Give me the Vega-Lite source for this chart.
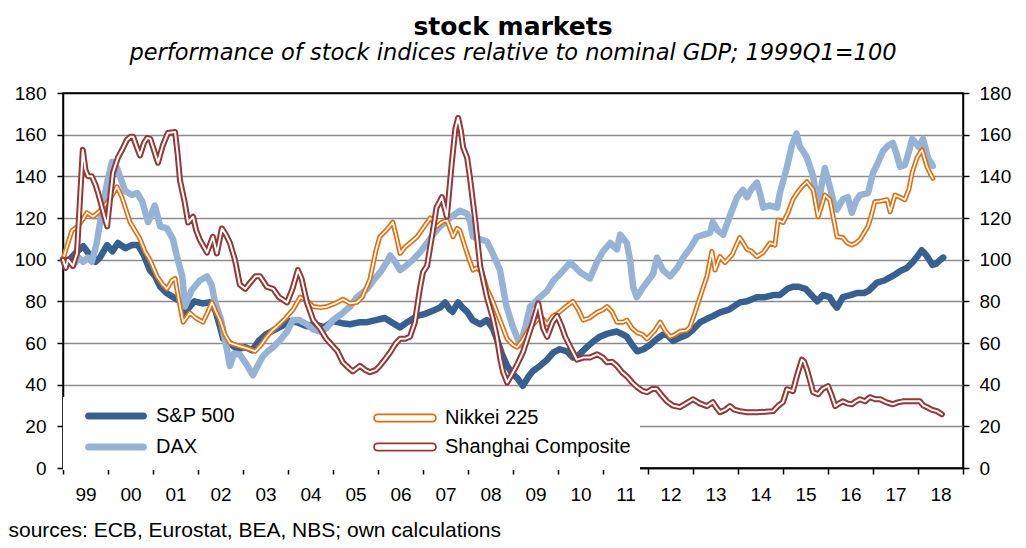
{
"$schema":"https://vega.github.io/schema/vega-lite/v6.json",
"width":900,"height":375,
"autosize":{"type":"none"},
"padding":{"left":63,"top":93,"right":63,"bottom":80},
"background":"white",
"title":{"text":"stock markets","subtitle":"performance of stock indices relative to nominal GDP; 1999Q1=100","anchor":"middle","frame":"group","font":"DejaVu Sans","fontSize":25,"fontWeight":"bold","color":"black","subtitleFont":"DejaVu Sans","subtitleFontSize":22.5,"subtitleFontStyle":"italic","subtitleColor":"black","offset":20,"subtitlePadding":2},
"config":{"view":{"stroke":"black","strokeWidth":1.5}},
"datasets":{"d":[
{"s":"S&P 500","t":1999.0,"v":100},{"s":"S&P 500","t":1999.1,"v":99},{"s":"S&P 500","t":1999.27,"v":103},{"s":"S&P 500","t":1999.45,"v":106.5},{"s":"S&P 500","t":1999.6,"v":102},{"s":"S&P 500","t":1999.72,"v":99},{"s":"S&P 500","t":1999.82,"v":101},{"s":"S&P 500","t":1999.98,"v":107},{"s":"S&P 500","t":2000.1,"v":104},{"s":"S&P 500","t":2000.22,"v":108},{"s":"S&P 500","t":2000.38,"v":105.5},{"s":"S&P 500","t":2000.53,"v":107},{"s":"S&P 500","t":2000.67,"v":107},{"s":"S&P 500","t":2000.8,"v":102},{"s":"S&P 500","t":2000.93,"v":95},{"s":"S&P 500","t":2001.05,"v":92},{"s":"S&P 500","t":2001.16,"v":87},{"s":"S&P 500","t":2001.3,"v":84},{"s":"S&P 500","t":2001.45,"v":82},{"s":"S&P 500","t":2001.6,"v":80},{"s":"S&P 500","t":2001.7,"v":74},{"s":"S&P 500","t":2001.8,"v":77},{"s":"S&P 500","t":2001.92,"v":80},{"s":"S&P 500","t":2002.1,"v":79},{"s":"S&P 500","t":2002.25,"v":79.5},{"s":"S&P 500","t":2002.38,"v":76},{"s":"S&P 500","t":2002.5,"v":67},{"s":"S&P 500","t":2002.56,"v":62},{"s":"S&P 500","t":2002.7,"v":60},{"s":"S&P 500","t":2002.87,"v":57},{"s":"S&P 500","t":2003.05,"v":58},{"s":"S&P 500","t":2003.2,"v":56.5},{"s":"S&P 500","t":2003.35,"v":61},{"s":"S&P 500","t":2003.5,"v":64},{"s":"S&P 500","t":2003.67,"v":66},{"s":"S&P 500","t":2003.85,"v":68},{"s":"S&P 500","t":2004.05,"v":70.5},{"s":"S&P 500","t":2004.2,"v":70},{"s":"S&P 500","t":2004.42,"v":68},{"s":"S&P 500","t":2004.6,"v":69},{"s":"S&P 500","t":2004.8,"v":67.5},{"s":"S&P 500","t":2005.0,"v":70.5},{"s":"S&P 500","t":2005.2,"v":69.5},{"s":"S&P 500","t":2005.38,"v":69},{"s":"S&P 500","t":2005.6,"v":70},{"s":"S&P 500","t":2005.76,"v":70},{"s":"S&P 500","t":2005.95,"v":71},{"s":"S&P 500","t":2006.15,"v":72},{"s":"S&P 500","t":2006.3,"v":70},{"s":"S&P 500","t":2006.49,"v":67.5},{"s":"S&P 500","t":2006.65,"v":70},{"s":"S&P 500","t":2006.87,"v":73},{"s":"S&P 500","t":2007.05,"v":74},{"s":"S&P 500","t":2007.22,"v":75.5},{"s":"S&P 500","t":2007.38,"v":77},{"s":"S&P 500","t":2007.49,"v":79.5},{"s":"S&P 500","t":2007.6,"v":76},{"s":"S&P 500","t":2007.66,"v":75},{"s":"S&P 500","t":2007.78,"v":79.5},{"s":"S&P 500","t":2007.88,"v":77},{"s":"S&P 500","t":2007.98,"v":75},{"s":"S&P 500","t":2008.1,"v":71},{"s":"S&P 500","t":2008.27,"v":69},{"s":"S&P 500","t":2008.42,"v":71},{"s":"S&P 500","t":2008.55,"v":67},{"s":"S&P 500","t":2008.64,"v":62},{"s":"S&P 500","t":2008.75,"v":55},{"s":"S&P 500","t":2008.87,"v":49},{"s":"S&P 500","t":2009.0,"v":45},{"s":"S&P 500","t":2009.1,"v":43},{"s":"S&P 500","t":2009.22,"v":39.5},{"s":"S&P 500","t":2009.35,"v":44},{"s":"S&P 500","t":2009.44,"v":46.5},{"s":"S&P 500","t":2009.6,"v":49},{"s":"S&P 500","t":2009.76,"v":52},{"s":"S&P 500","t":2009.9,"v":55.5},{"s":"S&P 500","t":2010.04,"v":57},{"s":"S&P 500","t":2010.2,"v":56},{"s":"S&P 500","t":2010.33,"v":53},{"s":"S&P 500","t":2010.45,"v":54},{"s":"S&P 500","t":2010.64,"v":58},{"s":"S&P 500","t":2010.8,"v":61},{"s":"S&P 500","t":2010.93,"v":63},{"s":"S&P 500","t":2011.1,"v":64.5},{"s":"S&P 500","t":2011.31,"v":65.5},{"s":"S&P 500","t":2011.45,"v":64},{"s":"S&P 500","t":2011.53,"v":63},{"s":"S&P 500","t":2011.65,"v":59},{"s":"S&P 500","t":2011.76,"v":56},{"s":"S&P 500","t":2011.9,"v":57},{"s":"S&P 500","t":2012.04,"v":59},{"s":"S&P 500","t":2012.2,"v":62},{"s":"S&P 500","t":2012.33,"v":64},{"s":"S&P 500","t":2012.42,"v":64},{"s":"S&P 500","t":2012.56,"v":61},{"s":"S&P 500","t":2012.7,"v":62.5},{"s":"S&P 500","t":2012.87,"v":64},{"s":"S&P 500","t":2013.0,"v":66.5},{"s":"S&P 500","t":2013.16,"v":70},{"s":"S&P 500","t":2013.3,"v":71.5},{"s":"S&P 500","t":2013.45,"v":73},{"s":"S&P 500","t":2013.6,"v":74.7},{"s":"S&P 500","t":2013.8,"v":76},{"s":"S&P 500","t":2014.04,"v":79.5},{"s":"S&P 500","t":2014.2,"v":80},{"s":"S&P 500","t":2014.42,"v":82},{"s":"S&P 500","t":2014.6,"v":82},{"s":"S&P 500","t":2014.78,"v":83},{"s":"S&P 500","t":2014.93,"v":83},{"s":"S&P 500","t":2015.1,"v":86},{"s":"S&P 500","t":2015.22,"v":87},{"s":"S&P 500","t":2015.35,"v":87},{"s":"S&P 500","t":2015.5,"v":86},{"s":"S&P 500","t":2015.63,"v":83},{"s":"S&P 500","t":2015.76,"v":80},{"s":"S&P 500","t":2015.89,"v":83},{"s":"S&P 500","t":2016.04,"v":82},{"s":"S&P 500","t":2016.12,"v":79},{"s":"S&P 500","t":2016.2,"v":77},{"s":"S&P 500","t":2016.33,"v":82},{"s":"S&P 500","t":2016.5,"v":83},{"s":"S&P 500","t":2016.64,"v":84},{"s":"S&P 500","t":2016.8,"v":84},{"s":"S&P 500","t":2016.9,"v":85},{"s":"S&P 500","t":2017.09,"v":89},{"s":"S&P 500","t":2017.25,"v":90},{"s":"S&P 500","t":2017.38,"v":91.5},{"s":"S&P 500","t":2017.5,"v":93},{"s":"S&P 500","t":2017.6,"v":94.5},{"s":"S&P 500","t":2017.75,"v":96},{"s":"S&P 500","t":2017.89,"v":99},{"s":"S&P 500","t":2018.0,"v":102},{"s":"S&P 500","t":2018.08,"v":104.5},{"s":"S&P 500","t":2018.15,"v":103},{"s":"S&P 500","t":2018.22,"v":101},{"s":"S&P 500","t":2018.32,"v":97.5},{"s":"S&P 500","t":2018.4,"v":98},{"s":"S&P 500","t":2018.5,"v":100},{"s":"S&P 500","t":2018.56,"v":101},
{"s":"DAX","t":1999.0,"v":100},{"s":"DAX","t":1999.1,"v":99},{"s":"DAX","t":1999.22,"v":97},{"s":"DAX","t":1999.35,"v":101},{"s":"DAX","t":1999.45,"v":99},{"s":"DAX","t":1999.55,"v":101},{"s":"DAX","t":1999.64,"v":99},{"s":"DAX","t":1999.75,"v":108},{"s":"DAX","t":1999.89,"v":127},{"s":"DAX","t":2000.0,"v":139},{"s":"DAX","t":2000.09,"v":147},{"s":"DAX","t":2000.2,"v":144},{"s":"DAX","t":2000.3,"v":138},{"s":"DAX","t":2000.38,"v":133},{"s":"DAX","t":2000.53,"v":131},{"s":"DAX","t":2000.65,"v":132},{"s":"DAX","t":2000.76,"v":128},{"s":"DAX","t":2000.89,"v":118},{"s":"DAX","t":2001.04,"v":126},{"s":"DAX","t":2001.16,"v":116},{"s":"DAX","t":2001.31,"v":115},{"s":"DAX","t":2001.44,"v":110},{"s":"DAX","t":2001.55,"v":100},{"s":"DAX","t":2001.65,"v":92},{"s":"DAX","t":2001.71,"v":77.5},{"s":"DAX","t":2001.85,"v":85},{"s":"DAX","t":2002.04,"v":90},{"s":"DAX","t":2002.2,"v":92},{"s":"DAX","t":2002.3,"v":88},{"s":"DAX","t":2002.38,"v":79.5},{"s":"DAX","t":2002.5,"v":72},{"s":"DAX","t":2002.56,"v":66},{"s":"DAX","t":2002.65,"v":56},{"s":"DAX","t":2002.71,"v":49},{"s":"DAX","t":2002.8,"v":55},{"s":"DAX","t":2002.93,"v":54.5},{"s":"DAX","t":2003.1,"v":49},{"s":"DAX","t":2003.22,"v":44.5},{"s":"DAX","t":2003.35,"v":50},{"s":"DAX","t":2003.44,"v":53.5},{"s":"DAX","t":2003.55,"v":56},{"s":"DAX","t":2003.67,"v":58},{"s":"DAX","t":2003.85,"v":62},{"s":"DAX","t":2003.98,"v":65.5},{"s":"DAX","t":2004.11,"v":71},{"s":"DAX","t":2004.25,"v":71},{"s":"DAX","t":2004.42,"v":69},{"s":"DAX","t":2004.56,"v":66.5},{"s":"DAX","t":2004.72,"v":65.5},{"s":"DAX","t":2004.85,"v":67},{"s":"DAX","t":2005.0,"v":71},{"s":"DAX","t":2005.22,"v":74.5},{"s":"DAX","t":2005.38,"v":77.5},{"s":"DAX","t":2005.53,"v":82},{"s":"DAX","t":2005.65,"v":84},{"s":"DAX","t":2005.76,"v":86},{"s":"DAX","t":2005.9,"v":90},{"s":"DAX","t":2006.05,"v":94},{"s":"DAX","t":2006.2,"v":99},{"s":"DAX","t":2006.27,"v":102},{"s":"DAX","t":2006.38,"v":99},{"s":"DAX","t":2006.49,"v":95},{"s":"DAX","t":2006.62,"v":97},{"s":"DAX","t":2006.78,"v":100},{"s":"DAX","t":2006.95,"v":104},{"s":"DAX","t":2007.09,"v":108},{"s":"DAX","t":2007.22,"v":112},{"s":"DAX","t":2007.38,"v":116},{"s":"DAX","t":2007.5,"v":118},{"s":"DAX","t":2007.6,"v":120},{"s":"DAX","t":2007.72,"v":122},{"s":"DAX","t":2007.82,"v":123.5},{"s":"DAX","t":2007.98,"v":122},{"s":"DAX","t":2008.05,"v":118},{"s":"DAX","t":2008.11,"v":111},{"s":"DAX","t":2008.25,"v":110},{"s":"DAX","t":2008.42,"v":108.7},{"s":"DAX","t":2008.55,"v":103},{"s":"DAX","t":2008.71,"v":95},{"s":"DAX","t":2008.85,"v":78},{"s":"DAX","t":2009.0,"v":67.5},{"s":"DAX","t":2009.16,"v":59},{"s":"DAX","t":2009.28,"v":68},{"s":"DAX","t":2009.38,"v":77.5},{"s":"DAX","t":2009.55,"v":81},{"s":"DAX","t":2009.76,"v":85},{"s":"DAX","t":2009.9,"v":90},{"s":"DAX","t":2010.04,"v":93},{"s":"DAX","t":2010.27,"v":98.6},{"s":"DAX","t":2010.4,"v":96},{"s":"DAX","t":2010.49,"v":94},{"s":"DAX","t":2010.71,"v":91},{"s":"DAX","t":2010.87,"v":99},{"s":"DAX","t":2011.0,"v":104},{"s":"DAX","t":2011.16,"v":108},{"s":"DAX","t":2011.31,"v":105},{"s":"DAX","t":2011.38,"v":112},{"s":"DAX","t":2011.53,"v":108},{"s":"DAX","t":2011.6,"v":100},{"s":"DAX","t":2011.67,"v":87},{"s":"DAX","t":2011.75,"v":82},{"s":"DAX","t":2011.9,"v":87},{"s":"DAX","t":2012.11,"v":93},{"s":"DAX","t":2012.2,"v":101},{"s":"DAX","t":2012.33,"v":95},{"s":"DAX","t":2012.49,"v":92},{"s":"DAX","t":2012.65,"v":96},{"s":"DAX","t":2012.78,"v":101},{"s":"DAX","t":2012.95,"v":106},{"s":"DAX","t":2013.09,"v":111},{"s":"DAX","t":2013.25,"v":112},{"s":"DAX","t":2013.38,"v":113},{"s":"DAX","t":2013.44,"v":118},{"s":"DAX","t":2013.55,"v":114},{"s":"DAX","t":2013.67,"v":112},{"s":"DAX","t":2013.82,"v":121},{"s":"DAX","t":2013.98,"v":130},{"s":"DAX","t":2014.11,"v":133.5},{"s":"DAX","t":2014.2,"v":130},{"s":"DAX","t":2014.3,"v":134},{"s":"DAX","t":2014.42,"v":137},{"s":"DAX","t":2014.5,"v":131},{"s":"DAX","t":2014.56,"v":125},{"s":"DAX","t":2014.7,"v":126},{"s":"DAX","t":2014.87,"v":125},{"s":"DAX","t":2014.93,"v":132},{"s":"DAX","t":2015.09,"v":144.6},{"s":"DAX","t":2015.2,"v":155},{"s":"DAX","t":2015.3,"v":160.5},{"s":"DAX","t":2015.38,"v":154},{"s":"DAX","t":2015.45,"v":152},{"s":"DAX","t":2015.53,"v":149},{"s":"DAX","t":2015.6,"v":144.6},{"s":"DAX","t":2015.67,"v":140},{"s":"DAX","t":2015.78,"v":125},{"s":"DAX","t":2015.86,"v":136},{"s":"DAX","t":2015.93,"v":144},{"s":"DAX","t":2016.04,"v":135},{"s":"DAX","t":2016.12,"v":128},{"s":"DAX","t":2016.2,"v":124},{"s":"DAX","t":2016.33,"v":129},{"s":"DAX","t":2016.44,"v":130},{"s":"DAX","t":2016.53,"v":122.5},{"s":"DAX","t":2016.62,"v":128},{"s":"DAX","t":2016.71,"v":131},{"s":"DAX","t":2016.89,"v":132},{"s":"DAX","t":2017.0,"v":141.7},{"s":"DAX","t":2017.1,"v":146},{"s":"DAX","t":2017.22,"v":152},{"s":"DAX","t":2017.35,"v":155},{"s":"DAX","t":2017.44,"v":156},{"s":"DAX","t":2017.52,"v":151},{"s":"DAX","t":2017.6,"v":144.6},{"s":"DAX","t":2017.71,"v":145.5},{"s":"DAX","t":2017.8,"v":152},{"s":"DAX","t":2017.87,"v":158},{"s":"DAX","t":2017.95,"v":156},{"s":"DAX","t":2018.02,"v":154},{"s":"DAX","t":2018.11,"v":158},{"s":"DAX","t":2018.22,"v":149},{"s":"DAX","t":2018.33,"v":145},
{"s":"Nikkei 225","t":1999.0,"v":100},{"s":"Nikkei 225","t":1999.08,"v":106},{"s":"Nikkei 225","t":1999.2,"v":114},{"s":"Nikkei 225","t":1999.33,"v":116},{"s":"Nikkei 225","t":1999.43,"v":119},{"s":"Nikkei 225","t":1999.53,"v":122.5},{"s":"Nikkei 225","t":1999.67,"v":120.6},{"s":"Nikkei 225","t":1999.8,"v":123},{"s":"Nikkei 225","t":1999.89,"v":125},{"s":"Nikkei 225","t":2000.04,"v":129},{"s":"Nikkei 225","t":2000.2,"v":135},{"s":"Nikkei 225","t":2000.31,"v":130},{"s":"Nikkei 225","t":2000.4,"v":124},{"s":"Nikkei 225","t":2000.49,"v":118},{"s":"Nikkei 225","t":2000.6,"v":114},{"s":"Nikkei 225","t":2000.71,"v":110},{"s":"Nikkei 225","t":2000.82,"v":104},{"s":"Nikkei 225","t":2000.93,"v":100},{"s":"Nikkei 225","t":2001.09,"v":92},{"s":"Nikkei 225","t":2001.22,"v":88},{"s":"Nikkei 225","t":2001.31,"v":86},{"s":"Nikkei 225","t":2001.42,"v":90},{"s":"Nikkei 225","t":2001.49,"v":91},{"s":"Nikkei 225","t":2001.58,"v":80},{"s":"Nikkei 225","t":2001.67,"v":70},{"s":"Nikkei 225","t":2001.82,"v":74.5},{"s":"Nikkei 225","t":2001.95,"v":72},{"s":"Nikkei 225","t":2002.11,"v":70},{"s":"Nikkei 225","t":2002.22,"v":75},{"s":"Nikkei 225","t":2002.31,"v":79.5},{"s":"Nikkei 225","t":2002.4,"v":75},{"s":"Nikkei 225","t":2002.49,"v":71},{"s":"Nikkei 225","t":2002.6,"v":64},{"s":"Nikkei 225","t":2002.71,"v":60},{"s":"Nikkei 225","t":2002.85,"v":59},{"s":"Nikkei 225","t":2003.0,"v":58},{"s":"Nikkei 225","t":2003.15,"v":57},{"s":"Nikkei 225","t":2003.27,"v":56},{"s":"Nikkei 225","t":2003.4,"v":59},{"s":"Nikkei 225","t":2003.53,"v":63},{"s":"Nikkei 225","t":2003.65,"v":66},{"s":"Nikkei 225","t":2003.76,"v":68},{"s":"Nikkei 225","t":2003.95,"v":72},{"s":"Nikkei 225","t":2004.11,"v":76},{"s":"Nikkei 225","t":2004.27,"v":82},{"s":"Nikkei 225","t":2004.44,"v":80},{"s":"Nikkei 225","t":2004.56,"v":77.5},{"s":"Nikkei 225","t":2004.72,"v":77},{"s":"Nikkei 225","t":2004.87,"v":77.5},{"s":"Nikkei 225","t":2005.05,"v":79},{"s":"Nikkei 225","t":2005.22,"v":81},{"s":"Nikkei 225","t":2005.38,"v":79},{"s":"Nikkei 225","t":2005.53,"v":79.5},{"s":"Nikkei 225","t":2005.65,"v":82},{"s":"Nikkei 225","t":2005.82,"v":90.5},{"s":"Nikkei 225","t":2005.95,"v":104},{"s":"Nikkei 225","t":2006.04,"v":111},{"s":"Nikkei 225","t":2006.18,"v":114},{"s":"Nikkei 225","t":2006.33,"v":118},{"s":"Nikkei 225","t":2006.42,"v":110},{"s":"Nikkei 225","t":2006.49,"v":103},{"s":"Nikkei 225","t":2006.6,"v":106},{"s":"Nikkei 225","t":2006.71,"v":108},{"s":"Nikkei 225","t":2006.87,"v":111},{"s":"Nikkei 225","t":2007.0,"v":115},{"s":"Nikkei 225","t":2007.16,"v":120},{"s":"Nikkei 225","t":2007.31,"v":116},{"s":"Nikkei 225","t":2007.42,"v":118},{"s":"Nikkei 225","t":2007.53,"v":119},{"s":"Nikkei 225","t":2007.67,"v":111},{"s":"Nikkei 225","t":2007.76,"v":115},{"s":"Nikkei 225","t":2007.82,"v":114},{"s":"Nikkei 225","t":2007.98,"v":103},{"s":"Nikkei 225","t":2008.11,"v":95},{"s":"Nikkei 225","t":2008.2,"v":96},{"s":"Nikkei 225","t":2008.31,"v":94},{"s":"Nikkei 225","t":2008.42,"v":86},{"s":"Nikkei 225","t":2008.55,"v":80},{"s":"Nikkei 225","t":2008.71,"v":71},{"s":"Nikkei 225","t":2008.87,"v":62},{"s":"Nikkei 225","t":2009.0,"v":59},{"s":"Nikkei 225","t":2009.09,"v":58},{"s":"Nikkei 225","t":2009.2,"v":61},{"s":"Nikkei 225","t":2009.31,"v":65},{"s":"Nikkei 225","t":2009.45,"v":69},{"s":"Nikkei 225","t":2009.53,"v":71},{"s":"Nikkei 225","t":2009.65,"v":72},{"s":"Nikkei 225","t":2009.76,"v":69},{"s":"Nikkei 225","t":2009.89,"v":73},{"s":"Nikkei 225","t":2009.98,"v":74},{"s":"Nikkei 225","t":2010.15,"v":77},{"s":"Nikkei 225","t":2010.33,"v":80},{"s":"Nikkei 225","t":2010.45,"v":76},{"s":"Nikkei 225","t":2010.56,"v":71},{"s":"Nikkei 225","t":2010.7,"v":72},{"s":"Nikkei 225","t":2010.87,"v":74.7},{"s":"Nikkei 225","t":2011.0,"v":76},{"s":"Nikkei 225","t":2011.09,"v":77.5},{"s":"Nikkei 225","t":2011.2,"v":75},{"s":"Nikkei 225","t":2011.31,"v":70},{"s":"Nikkei 225","t":2011.45,"v":70},{"s":"Nikkei 225","t":2011.53,"v":71},{"s":"Nikkei 225","t":2011.65,"v":67},{"s":"Nikkei 225","t":2011.76,"v":65},{"s":"Nikkei 225","t":2011.88,"v":64},{"s":"Nikkei 225","t":2011.98,"v":62},{"s":"Nikkei 225","t":2012.15,"v":66},{"s":"Nikkei 225","t":2012.27,"v":70},{"s":"Nikkei 225","t":2012.38,"v":66},{"s":"Nikkei 225","t":2012.49,"v":63},{"s":"Nikkei 225","t":2012.6,"v":64},{"s":"Nikkei 225","t":2012.71,"v":65.6},{"s":"Nikkei 225","t":2012.85,"v":66},{"s":"Nikkei 225","t":2012.93,"v":67.5},{"s":"Nikkei 225","t":2013.05,"v":75},{"s":"Nikkei 225","t":2013.2,"v":85},{"s":"Nikkei 225","t":2013.31,"v":92},{"s":"Nikkei 225","t":2013.42,"v":104},{"s":"Nikkei 225","t":2013.49,"v":95},{"s":"Nikkei 225","t":2013.6,"v":101.5},{"s":"Nikkei 225","t":2013.71,"v":98.6},{"s":"Nikkei 225","t":2013.87,"v":102.4},{"s":"Nikkei 225","t":2014.04,"v":110.6},{"s":"Nikkei 225","t":2014.2,"v":105},{"s":"Nikkei 225","t":2014.3,"v":104},{"s":"Nikkei 225","t":2014.42,"v":101.5},{"s":"Nikkei 225","t":2014.56,"v":103.4},{"s":"Nikkei 225","t":2014.71,"v":108},{"s":"Nikkei 225","t":2014.82,"v":107},{"s":"Nikkei 225","t":2014.89,"v":119},{"s":"Nikkei 225","t":2015.0,"v":117.8},{"s":"Nikkei 225","t":2015.11,"v":122.5},{"s":"Nikkei 225","t":2015.22,"v":128.8},{"s":"Nikkei 225","t":2015.31,"v":132},{"s":"Nikkei 225","t":2015.42,"v":135},{"s":"Nikkei 225","t":2015.53,"v":137.4},{"s":"Nikkei 225","t":2015.67,"v":133.5},{"s":"Nikkei 225","t":2015.78,"v":120.6},{"s":"Nikkei 225","t":2015.86,"v":126},{"s":"Nikkei 225","t":2015.93,"v":131},{"s":"Nikkei 225","t":2016.04,"v":128.8},{"s":"Nikkei 225","t":2016.12,"v":120},{"s":"Nikkei 225","t":2016.2,"v":111},{"s":"Nikkei 225","t":2016.33,"v":110.6},{"s":"Nikkei 225","t":2016.43,"v":108},{"s":"Nikkei 225","t":2016.53,"v":107},{"s":"Nikkei 225","t":2016.62,"v":108},{"s":"Nikkei 225","t":2016.71,"v":109.6},{"s":"Nikkei 225","t":2016.89,"v":116},{"s":"Nikkei 225","t":2016.96,"v":121},{"s":"Nikkei 225","t":2017.04,"v":127.8},{"s":"Nikkei 225","t":2017.15,"v":128},{"s":"Nikkei 225","t":2017.31,"v":128.8},{"s":"Nikkei 225","t":2017.38,"v":123},{"s":"Nikkei 225","t":2017.49,"v":131},{"s":"Nikkei 225","t":2017.6,"v":130},{"s":"Nikkei 225","t":2017.71,"v":128.8},{"s":"Nikkei 225","t":2017.8,"v":134},{"s":"Nikkei 225","t":2017.87,"v":141.7},{"s":"Nikkei 225","t":2017.98,"v":149},{"s":"Nikkei 225","t":2018.09,"v":152.7},{"s":"Nikkei 225","t":2018.2,"v":144.6},{"s":"Nikkei 225","t":2018.28,"v":141},{"s":"Nikkei 225","t":2018.33,"v":139},
{"s":"Shanghai Composite","t":1999.0,"v":100},{"s":"Shanghai Composite","t":1999.06,"v":96},{"s":"Shanghai Composite","t":1999.11,"v":100},{"s":"Shanghai Composite","t":1999.22,"v":97},{"s":"Shanghai Composite","t":1999.31,"v":103},{"s":"Shanghai Composite","t":1999.38,"v":130},{"s":"Shanghai Composite","t":1999.44,"v":152.7},{"s":"Shanghai Composite","t":1999.5,"v":143},{"s":"Shanghai Composite","t":1999.56,"v":140},{"s":"Shanghai Composite","t":1999.64,"v":140},{"s":"Shanghai Composite","t":1999.72,"v":136},{"s":"Shanghai Composite","t":1999.78,"v":132},{"s":"Shanghai Composite","t":1999.88,"v":124},{"s":"Shanghai Composite","t":1999.98,"v":116},{"s":"Shanghai Composite","t":2000.05,"v":130},{"s":"Shanghai Composite","t":2000.11,"v":141.7},{"s":"Shanghai Composite","t":2000.22,"v":149},{"s":"Shanghai Composite","t":2000.32,"v":153},{"s":"Shanghai Composite","t":2000.42,"v":157.5},{"s":"Shanghai Composite","t":2000.5,"v":159},{"s":"Shanghai Composite","t":2000.56,"v":159},{"s":"Shanghai Composite","t":2000.64,"v":154},{"s":"Shanghai Composite","t":2000.71,"v":150},{"s":"Shanghai Composite","t":2000.8,"v":156},{"s":"Shanghai Composite","t":2000.87,"v":158.4},{"s":"Shanghai Composite","t":2000.94,"v":158},{"s":"Shanghai Composite","t":2001.0,"v":154},{"s":"Shanghai Composite","t":2001.11,"v":146.5},{"s":"Shanghai Composite","t":2001.22,"v":155},{"s":"Shanghai Composite","t":2001.33,"v":160.8},{"s":"Shanghai Composite","t":2001.49,"v":161.3},{"s":"Shanghai Composite","t":2001.55,"v":150},{"s":"Shanghai Composite","t":2001.6,"v":138},{"s":"Shanghai Composite","t":2001.7,"v":128},{"s":"Shanghai Composite","t":2001.78,"v":117.8},{"s":"Shanghai Composite","t":2001.89,"v":120.6},{"s":"Shanghai Composite","t":2001.96,"v":114},{"s":"Shanghai Composite","t":2002.04,"v":109.6},{"s":"Shanghai Composite","t":2002.2,"v":103.4},{"s":"Shanghai Composite","t":2002.33,"v":111},{"s":"Shanghai Composite","t":2002.42,"v":103},{"s":"Shanghai Composite","t":2002.53,"v":115},{"s":"Shanghai Composite","t":2002.62,"v":112},{"s":"Shanghai Composite","t":2002.71,"v":108},{"s":"Shanghai Composite","t":2002.82,"v":100},{"s":"Shanghai Composite","t":2002.93,"v":88},{"s":"Shanghai Composite","t":2003.05,"v":86},{"s":"Shanghai Composite","t":2003.16,"v":89},{"s":"Shanghai Composite","t":2003.28,"v":92},{"s":"Shanghai Composite","t":2003.38,"v":92},{"s":"Shanghai Composite","t":2003.53,"v":87},{"s":"Shanghai Composite","t":2003.67,"v":86},{"s":"Shanghai Composite","t":2003.8,"v":82},{"s":"Shanghai Composite","t":2003.98,"v":79.5},{"s":"Shanghai Composite","t":2004.1,"v":86},{"s":"Shanghai Composite","t":2004.22,"v":95},{"s":"Shanghai Composite","t":2004.3,"v":91},{"s":"Shanghai Composite","t":2004.42,"v":79.5},{"s":"Shanghai Composite","t":2004.56,"v":71},{"s":"Shanghai Composite","t":2004.71,"v":67},{"s":"Shanghai Composite","t":2004.85,"v":62},{"s":"Shanghai Composite","t":2005.0,"v":58.4},{"s":"Shanghai Composite","t":2005.1,"v":56},{"s":"Shanghai Composite","t":2005.22,"v":50.7},{"s":"Shanghai Composite","t":2005.35,"v":48},{"s":"Shanghai Composite","t":2005.44,"v":46.4},{"s":"Shanghai Composite","t":2005.6,"v":49},{"s":"Shanghai Composite","t":2005.72,"v":47},{"s":"Shanghai Composite","t":2005.82,"v":46},{"s":"Shanghai Composite","t":2005.95,"v":47},{"s":"Shanghai Composite","t":2006.04,"v":49},{"s":"Shanghai Composite","t":2006.15,"v":52},{"s":"Shanghai Composite","t":2006.27,"v":55.5},{"s":"Shanghai Composite","t":2006.4,"v":60},{"s":"Shanghai Composite","t":2006.49,"v":62},{"s":"Shanghai Composite","t":2006.6,"v":62},{"s":"Shanghai Composite","t":2006.71,"v":63},{"s":"Shanghai Composite","t":2006.82,"v":70},{"s":"Shanghai Composite","t":2006.93,"v":86},{"s":"Shanghai Composite","t":2007.0,"v":94},{"s":"Shanghai Composite","t":2007.09,"v":97},{"s":"Shanghai Composite","t":2007.22,"v":114},{"s":"Shanghai Composite","t":2007.3,"v":125},{"s":"Shanghai Composite","t":2007.42,"v":130},{"s":"Shanghai Composite","t":2007.53,"v":120.6},{"s":"Shanghai Composite","t":2007.64,"v":146.5},{"s":"Shanghai Composite","t":2007.72,"v":163},{"s":"Shanghai Composite","t":2007.78,"v":168},{"s":"Shanghai Composite","t":2007.84,"v":162},{"s":"Shanghai Composite","t":2007.89,"v":154},{"s":"Shanghai Composite","t":2007.98,"v":149},{"s":"Shanghai Composite","t":2008.04,"v":140},{"s":"Shanghai Composite","t":2008.16,"v":119},{"s":"Shanghai Composite","t":2008.27,"v":97},{"s":"Shanghai Composite","t":2008.42,"v":82},{"s":"Shanghai Composite","t":2008.55,"v":72},{"s":"Shanghai Composite","t":2008.64,"v":63},{"s":"Shanghai Composite","t":2008.72,"v":52},{"s":"Shanghai Composite","t":2008.78,"v":46},{"s":"Shanghai Composite","t":2008.87,"v":41},{"s":"Shanghai Composite","t":2009.0,"v":46},{"s":"Shanghai Composite","t":2009.1,"v":50},{"s":"Shanghai Composite","t":2009.22,"v":55.5},{"s":"Shanghai Composite","t":2009.35,"v":64},{"s":"Shanghai Composite","t":2009.44,"v":70},{"s":"Shanghai Composite","t":2009.56,"v":79},{"s":"Shanghai Composite","t":2009.67,"v":67},{"s":"Shanghai Composite","t":2009.76,"v":63},{"s":"Shanghai Composite","t":2009.88,"v":70},{"s":"Shanghai Composite","t":2009.98,"v":73},{"s":"Shanghai Composite","t":2010.08,"v":68},{"s":"Shanghai Composite","t":2010.16,"v":63},{"s":"Shanghai Composite","t":2010.3,"v":57},{"s":"Shanghai Composite","t":2010.42,"v":52},{"s":"Shanghai Composite","t":2010.56,"v":53},{"s":"Shanghai Composite","t":2010.71,"v":53},{"s":"Shanghai Composite","t":2010.87,"v":54.6},{"s":"Shanghai Composite","t":2011.0,"v":53},{"s":"Shanghai Composite","t":2011.09,"v":50.7},{"s":"Shanghai Composite","t":2011.2,"v":51},{"s":"Shanghai Composite","t":2011.31,"v":49},{"s":"Shanghai Composite","t":2011.42,"v":46},{"s":"Shanghai Composite","t":2011.53,"v":44},{"s":"Shanghai Composite","t":2011.65,"v":41},{"s":"Shanghai Composite","t":2011.76,"v":38.8},{"s":"Shanghai Composite","t":2011.88,"v":37},{"s":"Shanghai Composite","t":2011.98,"v":36.4},{"s":"Shanghai Composite","t":2012.1,"v":38},{"s":"Shanghai Composite","t":2012.2,"v":37.8},{"s":"Shanghai Composite","t":2012.3,"v":35},{"s":"Shanghai Composite","t":2012.42,"v":32},{"s":"Shanghai Composite","t":2012.55,"v":30},{"s":"Shanghai Composite","t":2012.71,"v":29.2},{"s":"Shanghai Composite","t":2012.85,"v":31},{"s":"Shanghai Composite","t":2013.0,"v":33},{"s":"Shanghai Composite","t":2013.15,"v":31},{"s":"Shanghai Composite","t":2013.31,"v":29.7},{"s":"Shanghai Composite","t":2013.44,"v":31.6},{"s":"Shanghai Composite","t":2013.52,"v":29},{"s":"Shanghai Composite","t":2013.6,"v":26.8},{"s":"Shanghai Composite","t":2013.72,"v":28},{"s":"Shanghai Composite","t":2013.82,"v":29.7},{"s":"Shanghai Composite","t":2013.92,"v":28},{"s":"Shanghai Composite","t":2014.04,"v":27.3},{"s":"Shanghai Composite","t":2014.2,"v":26.8},{"s":"Shanghai Composite","t":2014.42,"v":26.8},{"s":"Shanghai Composite","t":2014.6,"v":27},{"s":"Shanghai Composite","t":2014.78,"v":27.3},{"s":"Shanghai Composite","t":2014.9,"v":30},{"s":"Shanghai Composite","t":2015.0,"v":31.6},{"s":"Shanghai Composite","t":2015.09,"v":37.8},{"s":"Shanghai Composite","t":2015.22,"v":36.9},{"s":"Shanghai Composite","t":2015.32,"v":45},{"s":"Shanghai Composite","t":2015.42,"v":52},{"s":"Shanghai Composite","t":2015.47,"v":51},{"s":"Shanghai Composite","t":2015.53,"v":47.4},{"s":"Shanghai Composite","t":2015.6,"v":42},{"s":"Shanghai Composite","t":2015.67,"v":36.4},{"s":"Shanghai Composite","t":2015.78,"v":35.4},{"s":"Shanghai Composite","t":2015.88,"v":38},{"s":"Shanghai Composite","t":2016.0,"v":39.3},{"s":"Shanghai Composite","t":2016.08,"v":35},{"s":"Shanghai Composite","t":2016.16,"v":29.7},{"s":"Shanghai Composite","t":2016.25,"v":31},{"s":"Shanghai Composite","t":2016.33,"v":32},{"s":"Shanghai Composite","t":2016.43,"v":31},{"s":"Shanghai Composite","t":2016.53,"v":30.6},{"s":"Shanghai Composite","t":2016.62,"v":32},{"s":"Shanghai Composite","t":2016.71,"v":33},{"s":"Shanghai Composite","t":2016.82,"v":32},{"s":"Shanghai Composite","t":2016.93,"v":34},{"s":"Shanghai Composite","t":2017.05,"v":33},{"s":"Shanghai Composite","t":2017.16,"v":33},{"s":"Shanghai Composite","t":2017.3,"v":31.5},{"s":"Shanghai Composite","t":2017.44,"v":30.6},{"s":"Shanghai Composite","t":2017.55,"v":31.5},{"s":"Shanghai Composite","t":2017.67,"v":32},{"s":"Shanghai Composite","t":2017.85,"v":32},{"s":"Shanghai Composite","t":2018.04,"v":32},{"s":"Shanghai Composite","t":2018.12,"v":30},{"s":"Shanghai Composite","t":2018.2,"v":29.2},{"s":"Shanghai Composite","t":2018.3,"v":28},{"s":"Shanghai Composite","t":2018.42,"v":27.3},{"s":"Shanghai Composite","t":2018.53,"v":25.8}
]},
"data":{"name":"d"},
"resolve":{"scale":{"y":"shared"},"axis":{"y":"independent"}},
"encoding":{
 "x":{"field":"t","type":"quantitative","scale":{"domain":[1999,2019],"nice":false,"zero":false},
  "axis":{"values":[1999,2000,2001,2002,2003,2004,2005,2006,2007,2008,2009,2010,2011,2012,2013,2014,2015,2016,2017,2018,2019],"labelExpr":"datum.value==2019?'':slice(toString(datum.value),2)","labelOffset":22.5,"labelFlush":false,"labelOverlap":false,"labelBound":false,"tickSize":6,"tickColor":"black","tickWidth":1.5,"domainColor":"black","domainWidth":1.5,"grid":false,"labelFont":"Liberation Sans","labelFontSize":19,"labelColor":"black","labelPadding":11,"title":"sources: ECB, Eurostat, BEA, NBS; own calculations","titleAnchor":"start","titleAlign":"left","titleX":-55,"titleY":68,"titleBaseline":"alphabetic","titleFont":"Liberation Sans","titleFontSize":21,"titleFontWeight":"normal","titleColor":"black"}}
},
"layer":[
 {"transform":[{"filter":"datum.s=='S&P 500'"}],
  "mark":{"type":"line","strokeWidth":6.5,"strokeJoin":"round","strokeCap":"round"},
  "encoding":{
   "y":{"field":"v","type":"quantitative","scale":{"domain":[0,180],"nice":false,"zero":true},
    "axis":{"orient":"left","values":[0,20,40,60,80,100,120,140,160,180],"grid":true,"gridColor":{"condition":{"test":"datum.value==0||datum.value==180","value":"black"},"value":"#8c8c8c"},"gridWidth":1.5,"tickSize":6,"tickColor":"black","tickWidth":1.5,"domainColor":"black","domainWidth":1.5,"labelFont":"Liberation Sans","labelFontSize":19,"labelColor":"black","labelPadding":11,"title":null}},
   "color":{"field":"s","type":"nominal","scale":{"domain":["S&P 500","DAX","Nikkei 225","Shanghai Composite"],"range":["#376092","#95B3D7","#E46C0A","#953735"]},
    "legend":{"title":null,"orient":"none","legendX":0,"legendY":304,"columns":2,"columnPadding":126,"rowPadding":3,"padding":9,"fillColor":"white","strokeColor":null,"labelFont":"Liberation Sans","labelFontSize":20,"labelColor":"black","labelOffset":30,"labelLimit":400,"symbolSize":3000,"symbolOffset":34,
     "encode":{"symbols":{"update":{
      "shape":{"signal":"(datum.value=='S&P 500'||datum.value=='DAX') ? 'M-1,0L1,0' : 'M-1,-0.13L1,-0.13A0.13,0.13 0 0 1 1,0.13L-1,0.13A0.13,0.13 0 0 1 -1,-0.13Z'"},
      "strokeWidth":{"signal":"(datum.value=='S&P 500'||datum.value=='DAX') ? 7 : 1.8"},
      "fill":{"value":"white"},
      "strokeCap":{"value":"round"},
      "opacity":{"value":1}}}}}}
  }},
 {"transform":[{"filter":"datum.s=='DAX'"}],
  "mark":{"type":"line","strokeWidth":6.5,"strokeJoin":"round","strokeCap":"round"},
  "encoding":{
   "y":{"field":"v","type":"quantitative","axis":{"orient":"right","values":[0,20,40,60,80,100,120,140,160,180],"grid":false,"tickSize":6,"tickColor":"black","tickWidth":1.5,"domainColor":"black","domainWidth":1.5,"labelFont":"Liberation Sans","labelFontSize":19,"labelColor":"black","labelPadding":10,"title":null}},
   "color":{"field":"s","type":"nominal"}
  }},
 {"transform":[{"filter":"datum.s=='Nikkei 225'"}],
  "mark":{"type":"line","strokeWidth":5,"strokeJoin":"round","strokeCap":"round"},
  "encoding":{"y":{"field":"v","type":"quantitative","axis":null},"color":{"field":"s","type":"nominal"}}},
 {"transform":[{"filter":"datum.s=='Nikkei 225'"}],
  "mark":{"type":"line","strokeWidth":1.7,"color":"white","strokeJoin":"round","strokeCap":"round"},
  "encoding":{"y":{"field":"v","type":"quantitative","axis":null}}},
 {"transform":[{"filter":"datum.s=='Shanghai Composite'"}],
  "mark":{"type":"line","strokeWidth":6,"strokeJoin":"round","strokeCap":"round"},
  "encoding":{"y":{"field":"v","type":"quantitative","axis":null},"color":{"field":"s","type":"nominal"}}},
 {"transform":[{"filter":"datum.s=='Shanghai Composite'"}],
  "mark":{"type":"line","strokeWidth":2,"color":"white","strokeJoin":"round","strokeCap":"round"},
  "encoding":{"y":{"field":"v","type":"quantitative","axis":null}}}
]
}
